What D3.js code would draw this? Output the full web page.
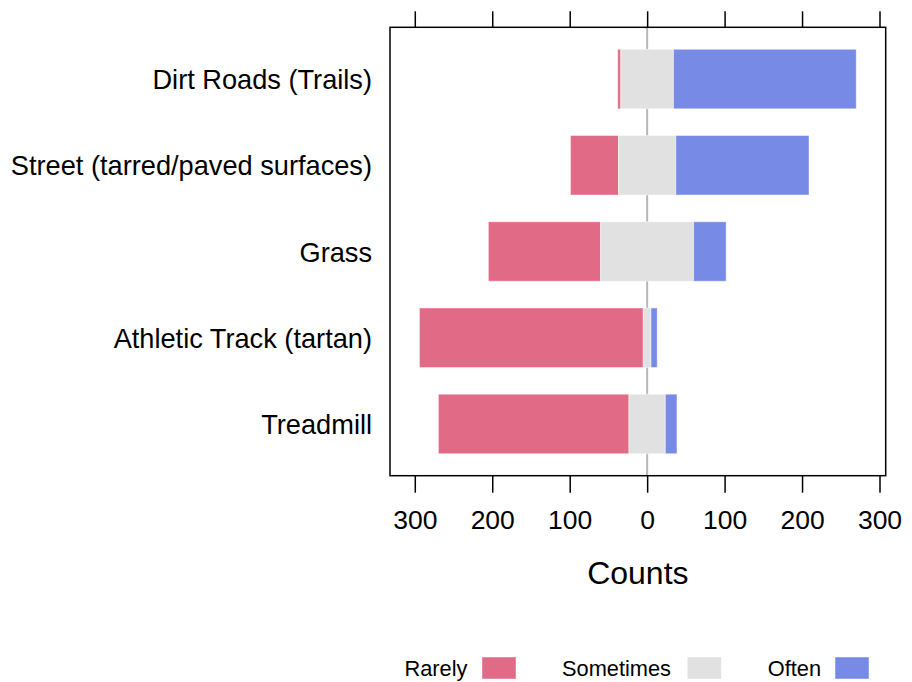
<!DOCTYPE html>
<html>
<head>
<meta charset="utf-8">
<script src="https://cdn.jsdelivr.net/npm/d3@7"></script>
<style>
  html, body { margin: 0; padding: 0; background: #fff; }
  svg { display: block; font-family: "Liberation Sans", Arial, Helvetica, sans-serif; }
</style>
</head>
<body>
<svg id="chart" width="912" height="682"></svg>
<script>
const categories = ["Dirt Roads (Trails)", "Street (tarred/paved surfaces)", "Grass", "Athletic Track (tartan)", "Treadmill"];
const rarely = [4, 62, 145, 289, 246];
const sometimes = [68, 74, 120, 10, 47];
const often = [236, 172, 42, 8, 15];
const levels = ["Rarely", "Sometimes", "Often"];
const colors = ["#E16A86", "#E1E1E1", "#778BE6"];
const tickValues = [-300, -200, -100, 0, 100, 200, 300];

(function () {
const svg = d3.select("#chart");
const pLeft = 390, pRight = 885.7, pTop = 27.3, pBottom = 475.7;

const x = d3.scaleLinear().domain([-332, 308]).range([pLeft, pRight]);
const y = d3.scaleLinear().domain([0.4, 5.6]).range([pTop, pBottom]);
const barH = y(0.69) - y(0);

// zero reference line
svg.append("line")
  .attr("x1", x(0)).attr("x2", x(0))
  .attr("y1", pTop).attr("y2", pBottom)
  .attr("stroke", "#b8b8b8").attr("stroke-width", 2);

// build segments
const segs = [];
categories.forEach((c, i) => {
  const half = sometimes[i] / 2;
  segs.push({ i, lvl: 0, x0: -half - rarely[i], x1: -half });
  segs.push({ i, lvl: 1, x0: -half, x1: half });
  segs.push({ i, lvl: 2, x0: half, x1: half + often[i] });
});

svg.append("g").selectAll("rect").data(segs).join("rect")
  .attr("x", d => x(d.x0))
  .attr("width", d => x(d.x1) - x(d.x0))
  .attr("y", d => y(d.i + 1) - barH / 2)
  .attr("height", barH)
  .attr("fill", d => colors[d.lvl])
  .attr("stroke", "#ffffff").attr("stroke-opacity", 0.45).attr("stroke-width", 1);

// panel border
svg.append("rect")
  .attr("x", pLeft).attr("y", pTop)
  .attr("width", pRight - pLeft).attr("height", pBottom - pTop)
  .attr("fill", "none").attr("stroke", "#000").attr("stroke-width", 1.5);

// axes
const topAxis = svg.append("g").attr("transform", `translate(0,${pTop})`)
  .call(d3.axisTop(x).tickValues(tickValues).tickSize(16).tickSizeOuter(0).tickFormat(""));
topAxis.select(".domain").remove();
topAxis.selectAll("line").attr("stroke", "#000").attr("stroke-width", 1.5);

const botAxis = svg.append("g").attr("transform", `translate(0,${pBottom})`)
  .call(d3.axisBottom(x).tickValues(tickValues).tickSize(17).tickSizeOuter(0).tickFormat(d => Math.abs(d)));
botAxis.select(".domain").remove();
botAxis.selectAll("line").attr("stroke", "#000").attr("stroke-width", 1.5);
botAxis.selectAll("text")
  .attr("y", 53).attr("dy", null)
  .attr("font-size", 26.5).attr("fill", "#000")
  .attr("font-family", "Liberation Sans, Arial, sans-serif");

// category labels
svg.append("g").selectAll("text").data(categories).join("text")
  .attr("x", 372)
  .attr("y", (d, i) => y(i + 1) + 10)
  .attr("text-anchor", "end")
  .attr("font-size", 27.2)
  .text(d => d);

// x title
svg.append("text")
  .attr("x", (pLeft + pRight) / 2).attr("y", 584)
  .attr("text-anchor", "middle").attr("font-size", 32)
  .text("Counts");

// legend
const legendPos = [
  { tx: 467.5, sx: 482 },
  { tx: 671, sx: 687.3 },
  { tx: 821, sx: 835 }
];
const lg = svg.append("g");
levels.forEach((l, k) => {
  lg.append("text")
    .attr("x", legendPos[k].tx).attr("y", 676)
    .attr("text-anchor", "end").attr("font-size", 21.8)
    .text(l);
  lg.append("rect")
    .attr("x", legendPos[k].sx).attr("y", 657)
    .attr("width", 34).attr("height", 22)
    .attr("fill", colors[k])
    .attr("stroke", "#fff").attr("stroke-opacity", 0.45);
});
})();
</script>
</body>
</html>
